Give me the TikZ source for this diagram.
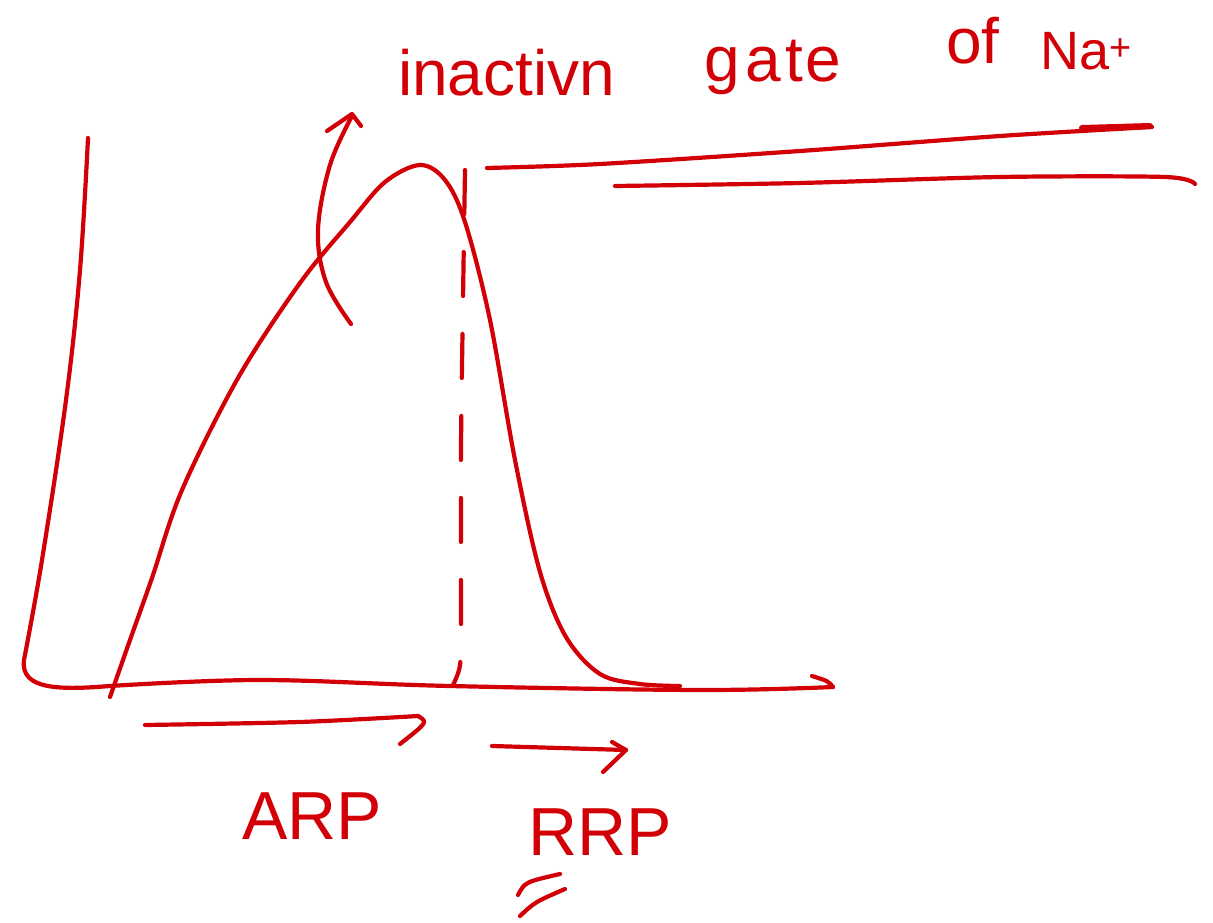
\documentclass[tikz,border=0pt]{standalone}
\usepackage{fontspec}
\setmainfont{Liberation Sans}
\usetikzlibrary{positioning,calc}
\definecolor{penred}{RGB}{210,0,6}

\begin{document}
\begin{tikzpicture}[x=1pt,y=-1pt,line cap=round,line join=round,
  pen/.style={draw=penred,line width=4.2pt},
  hand/.style={text=penred,inner sep=0pt,font=\fontsize{64}{64}\selectfont}]
\useasboundingbox (0,0) rectangle (1213,923);
% axes
\draw[pen] plot[smooth,tension=0.6] coordinates {(88,138) (80,270) (66,400) (42,560) (24,660)}
  .. controls (20,690) and (60,690) .. (110,686)
  plot[smooth,tension=0.6] coordinates {(110,686) (260,680) (450,686) (700,690) (833,687)};
\draw[pen] (833,687) .. controls (828,681) .. (812,676);
% action potential
\draw[pen] plot[smooth,tension=0.55] coordinates {(110,697) (130,640) (152,578) (182,490) (238,378)
  (300,283) (350,222) (385,182) (420,165) (445,180) (465,222) (490,320) (515,460) (540,572)
  (566,637) (600,674) (640,684) (680,686)};
% dashed division
\draw[pen,dash pattern=on 44pt off 38pt] plot[smooth] coordinates {(465,170) (463,300) (461,450) (461,620) (460,665) (453,685)};
% curved arrow
\draw[pen] plot[smooth,tension=0.6] coordinates {(351,324) (326,282) (318,230) (330,165) (352,116)};
\draw[pen] (327,131) -- (352,114) -- (361,126);
% top lines
\draw[pen] plot[smooth,tension=0.5] coordinates {(487,168) (600,164) (800,151) (1000,136) (1152,127)};
\draw[pen,line width=6pt] (1082,128) -- (1150,126);
\draw[pen] plot[smooth,tension=0.5] coordinates {(615,186) (800,183) (1000,177) (1165,177) (1195,184)};
% ARP / RRP arrows
\draw[pen] plot[smooth,tension=0.5] coordinates {(145,725) (300,722) (418,716)};
\draw[pen] (418,716) .. controls (428,722) .. (400,744);
\draw[pen] (492,746) -- (626,750);
\draw[pen] (612,742) -- (626,750) -- (603,772);
% labels
\node[hand,anchor=base west] (inact) at (398,96) {inactivn};
\node[hand,anchor=base west] (gate) at (704,82) {g\hspace{6pt}a\hspace{4pt}t\hspace{2pt}e};
\node[hand,anchor=base west] (ofna) at (946,64) {of};
\node[hand,anchor=base west,font=\fontsize{54}{54}\selectfont] (na) at (1040,70) {Na\textsuperscript{+}};
\node[hand,font=\fontsize{68}{68}\selectfont] (arp) at (312,816) {ARP};
\node[hand,font=\fontsize{68}{68}\selectfont] (rrp) at (600,832) {RRP};
\draw[pen] (518,895) .. controls (525,882) .. (560,874);
\draw[pen] (520,916) .. controls (535,902) .. (565,889);
\end{tikzpicture}
\end{document}
